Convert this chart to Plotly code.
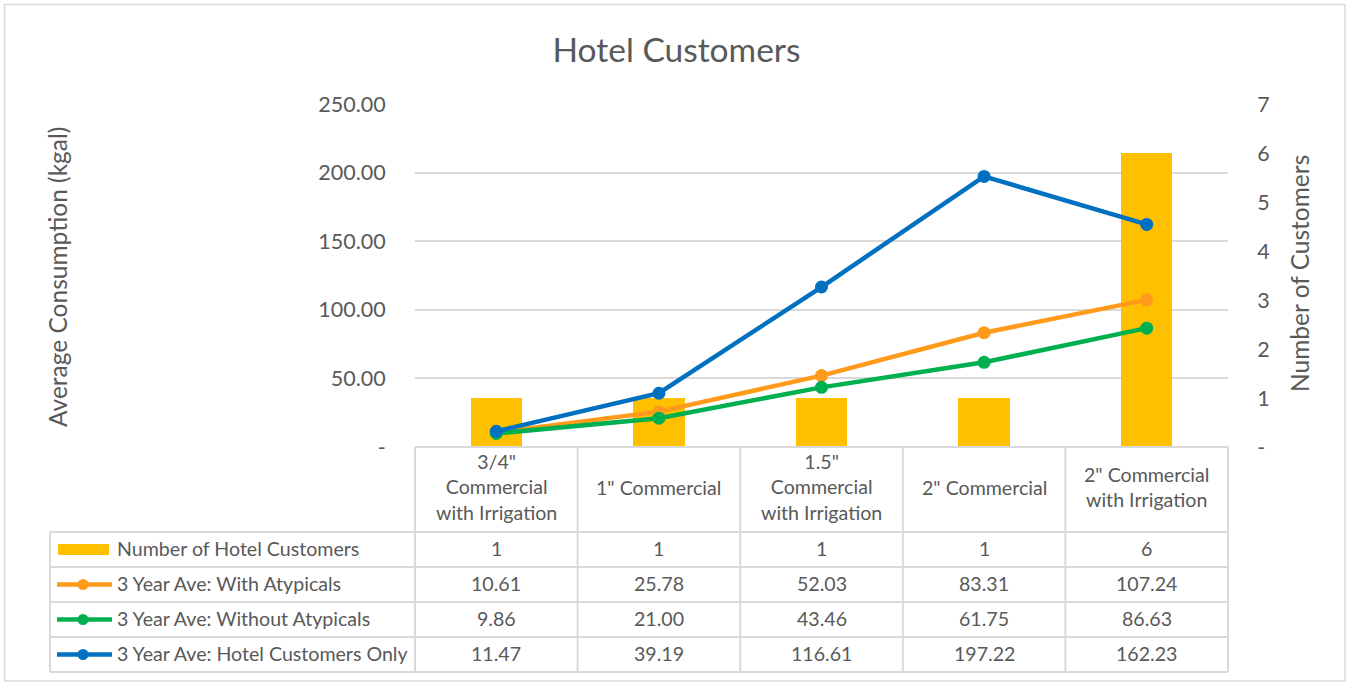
import plotly.graph_objects as go

# ---------------- data ----------------
categories = ['3/4"<br>Commercial<br>with Irrigation', '1" Commercial',
              '1.5"<br>Commercial<br>with Irrigation', '2" Commercial',
              '2" Commercial<br>with Irrigation']
customers = [1, 1, 1, 1, 6]
with_atypicals = [10.61, 25.78, 52.03, 83.31, 107.24]
without_atypicals = [9.86, 21.00, 43.46, 61.75, 86.63]
hotel_only = [11.47, 39.19, 116.61, 197.22, 162.23]

bar_name = "Number of Hotel Customers"
line_names = ["3 Year Ave: With Atypicals", "3 Year Ave: Without Atypicals",
              "3 Year Ave: Hotel Customers Only"]

left_tickvals = [0, 50, 100, 150, 200, 250]
left_ticktext = ["-", "50.00", "100.00", "150.00", "200.00", "250.00"]
right_tickvals = [0, 1, 2, 3, 4, 5, 6, 7]
right_ticktext = ["-", "1", "2", "3", "4", "5", "6", "7"]

title_text = "Hotel Customers"
left_title = "Average Consumption (kgal)"
right_title = "Number of Customers"

# ---------------- styles ----------------
W, H = 1348, 682
FONT = "Lato"
TXT = "#595959"
GRID = "#D9D9D9"
BAR_COLOR = "#FFC000"
LINE_COLORS = ["#FF9A1A", "#00B050", "#0070C0"]

PL, PR, PT, PB = 415, 1228, 104, 447   # plot area in pixels
ROWS = [532, 567, 602, 637, 672]        # table row borders
TABLE_LEFT = 50
TABLE_FONT = 19.6
TEXT_SHIFT = -1.5                        # small upward nudge of table text


def px(x):
    return x / W


def py(y):
    return 1 - y / H


idx = list(range(len(categories)))
line_series = [with_atypicals, without_atypicals, hotel_only]

fig = go.Figure()

# bars on primary (right-side) axis so lines sit on top
fig.add_trace(go.Bar(x=idx, y=customers, name=bar_name, yaxis="y",
                     marker=dict(color=BAR_COLOR, line=dict(width=0)),
                     width=0.315, hoverinfo="y"))

for vals, name, col in zip(line_series, line_names, LINE_COLORS):
    fig.add_trace(go.Scatter(x=idx, y=vals, name=name, yaxis="y2",
                             mode="lines+markers",
                             line=dict(color=col, width=4.5),
                             marker=dict(color=col, size=13)))

shapes = []
annotations = []

# outer chart border
shapes.append(dict(type="rect", xref="paper", yref="paper",
                   x0=px(4.5), x1=px(1345), y0=py(4.5), y1=py(681),
                   line=dict(color=GRID, width=1.5), layer="below"))

# table grid
TL = dict(color=GRID, width=2)
col_edges = [PL + i * (PR - PL) / len(categories) for i in range(len(categories) + 1)]
for xe in col_edges:
    shapes.append(dict(type="line", xref="paper", yref="paper",
                       x0=px(xe), x1=px(xe), y0=py(PB), y1=py(ROWS[-1]), line=TL))
shapes.append(dict(type="line", xref="paper", yref="paper",
                   x0=px(PL), x1=px(PR), y0=py(PB), y1=py(PB), line=TL))
for yr in ROWS:
    shapes.append(dict(type="line", xref="paper", yref="paper",
                       x0=px(TABLE_LEFT), x1=px(PR), y0=py(yr), y1=py(yr), line=TL))
shapes.append(dict(type="line", xref="paper", yref="paper",
                   x0=px(TABLE_LEFT), x1=px(TABLE_LEFT), y0=py(ROWS[0]), y1=py(ROWS[-1]), line=TL))

row_centers = [(ROWS[i] + ROWS[i + 1]) / 2 for i in range(4)]

# legend keys inside table
shapes.append(dict(type="rect", xref="paper", yref="paper",
                   x0=px(58), x1=px(109), y0=py(row_centers[0] - 5.5), y1=py(row_centers[0] + 5.5),
                   fillcolor=BAR_COLOR, line=dict(width=0)))
for k, col in enumerate(LINE_COLORS):
    yc = row_centers[k + 1]
    shapes.append(dict(type="line", xref="paper", yref="paper",
                       x0=px(57), x1=px(112), y0=py(yc), y1=py(yc),
                       line=dict(color=col, width=4.5)))
    shapes.append(dict(type="circle", xref="paper", yref="paper",
                       x0=px(83 - 5.5), x1=px(83 + 5.5), y0=py(yc - 5.5), y1=py(yc + 5.5),
                       fillcolor=col, line=dict(width=0)))

# row labels
for name, yc in zip([bar_name] + line_names, row_centers):
    annotations.append(dict(text=name, xref="paper", yref="paper", x=px(115), y=py(yc + TEXT_SHIFT),
                            xanchor="left", yanchor="middle", showarrow=False,
                            font=dict(family=FONT, size=TABLE_FONT, color=TXT)))

# header labels
for i, cat in enumerate(categories):
    annotations.append(dict(text=cat, xref="x", yref="paper", x=i,
                            y=py((PB + ROWS[0]) / 2 + TEXT_SHIFT - 1),
                            xanchor="center", yanchor="middle", showarrow=False,
                            font=dict(family=FONT, size=TABLE_FONT, color=TXT)))

# values
table_rows = [[str(v) for v in customers]] + [[f"{v:.2f}" for v in s] for s in line_series]
for r, vals in enumerate(table_rows):
    for i, t in enumerate(vals):
        annotations.append(dict(text=t, xref="x", yref="paper", x=i, y=py(row_centers[r] + TEXT_SHIFT),
                                xanchor="center", yanchor="middle", showarrow=False,
                                font=dict(family=FONT, size=TABLE_FONT, color=TXT)))

# axis titles
annotations.append(dict(text=left_title, xref="paper", yref="paper", x=px(57), y=py(277),
                        textangle=-90, xanchor="center", yanchor="middle", showarrow=False,
                        font=dict(family=FONT, size=24.5, color=TXT)))
annotations.append(dict(text=right_title, xref="paper", yref="paper", x=px(1299), y=py(274),
                        textangle=-90, xanchor="center", yanchor="middle", showarrow=False,
                        font=dict(family=FONT, size=24.5, color=TXT)))

fig.update_layout(
    width=W, height=H,
    autosize=False,
    margin=dict(l=0, r=0, t=0, b=0, pad=0, autoexpand=False),
    paper_bgcolor="white", plot_bgcolor="white",
    showlegend=False,
    bargap=0,
    title=dict(text=title_text, x=px(676.5), y=py(50), xanchor="center", yanchor="middle",
               automargin=False,
               font=dict(family=FONT, size=33.5, color=TXT)),
    xaxis=dict(domain=[px(PL), px(PR)], range=[-0.5, len(categories) - 0.5],
               showticklabels=False, showgrid=False, zeroline=False, showline=False,
               ticks="", automargin=False),
    yaxis=dict(domain=[py(PB), py(PT)], side="right", range=[0, 7],
               tickvals=right_tickvals, ticktext=right_ticktext,
               showgrid=False, zeroline=False, showline=False, automargin=False,
               ticks="outside", ticklen=24, tickcolor="rgba(0,0,0,0)",
               tickfont=dict(family=FONT, size=21.5, color=TXT)),
    yaxis2=dict(overlaying="y", side="left", range=[0, 250],
                tickvals=left_tickvals, ticktext=left_ticktext,
                showgrid=True, gridcolor=GRID, gridwidth=2, automargin=False,
                zeroline=False, showline=False,
                ticks="outside", ticklen=24, tickcolor="rgba(0,0,0,0)",
                tickfont=dict(family=FONT, size=21.5, color=TXT)),
    shapes=shapes,
    annotations=annotations,
)

fig.write_html("out.html", config={"displayModeBar": False},
               post_script="document.body.style.margin='0';")
